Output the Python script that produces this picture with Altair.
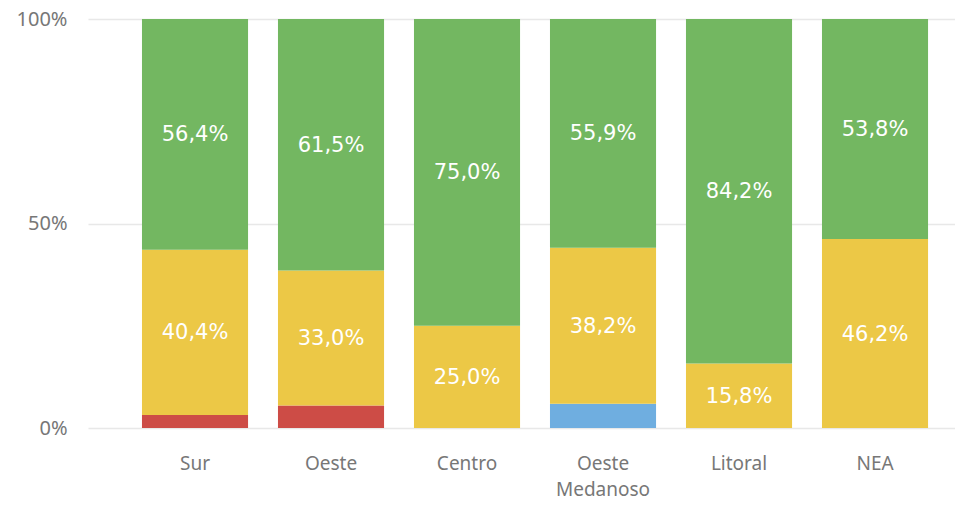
import altair as alt
import pandas as pd

regiones = ["Sur", "Oeste", "Centro", "Oeste Medanoso", "Litoral", "NEA"]
series = ["Rojo", "Azul", "Amarillo", "Verde"]
rojo = [3.2, 5.5, 0.0, 0.0, 0.0, 0.0]
azul = [0.0, 0.0, 0.0, 5.9, 0.0, 0.0]
amarillo = [40.4, 33.0, 25.0, 38.2, 15.8, 46.2]
verde = [56.4, 61.5, 75.0, 55.9, 84.2, 53.8]
colores = ["#CD4C46", "#6FAEE0", "#ECC846", "#73B761"]
con_etiqueta = ["Amarillo", "Verde"]

rows = []
for i, r in enumerate(regiones):
    for j, (s, vals) in enumerate(zip(series, [rojo, azul, amarillo, verde])):
        rows.append({"region": r, "serie": s, "orden": j, "valor": vals[i]})
df = pd.DataFrame(rows)

base = (
    alt.Chart(df)
    .transform_stack(stack="valor", groupby=["region"], sort=[alt.SortField("orden")], as_=["y0", "y1"])
    .transform_calculate(mid="(datum.y0 + datum.y1) / 2",
                         etiqueta="replace(format(datum.valor, '.1f'), '.', ',') + '%'")
)

x = alt.X(
    "region:N", sort=regiones, title=None,
    scale=alt.Scale(paddingInner=0.22, paddingOuter=0.2975, align=0.667),
    axis=alt.Axis(labelExpr="split(datum.label, ' ')", labelAngle=0, domain=False, ticks=False,
                  labelPadding=26, labelFontSize=19, labelLineHeight=26, labelColor="#777777",
                  labelFont="Noto Sans", grid=False),
)

bars = base.mark_rect().encode(
    x=x,
    y=alt.Y("y0:Q", scale=alt.Scale(domain=[0, 100], nice=False), title=None,
            axis=alt.Axis(values=[0, 50, 100], labelExpr="datum.value + '%'", grid=True,
                          gridColor="#E8E8E8", gridWidth=1.5, domain=False, ticks=False,
                          labelPadding=21, labelFontSize=20, labelColor="#777777",
                          labelFont="Noto Sans")),
    y2="y1:Q",
    color=alt.Color("serie:N", scale=alt.Scale(domain=series, range=colores), legend=None),
)

text = base.transform_filter(
    alt.FieldOneOfPredicate(field="serie", oneOf=con_etiqueta)
).mark_text(color="white", fontSize=21, font="DejaVu Sans", baseline="middle", dy=1).encode(
    x=x,
    y=alt.Y("mid:Q"),
    text="etiqueta:N",
)

chart = alt.layer(bars, text).properties(
    width=867, height=409,
    autosize=alt.AutoSizeParams(type="none"),
    padding={"left": 80, "top": 11, "right": 0, "bottom": 76},
    background="white",
).configure_view(stroke=None)

chart.save("out.html", embed_options={"renderer": "svg", "actions": False})
